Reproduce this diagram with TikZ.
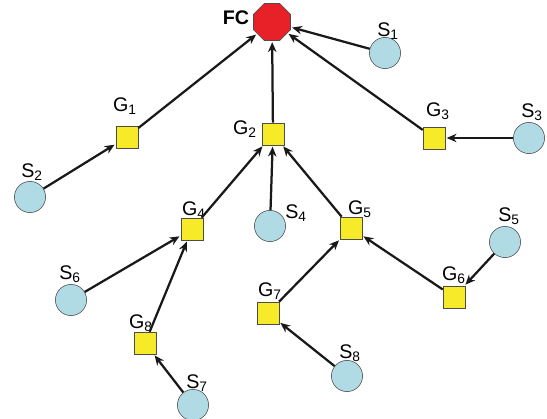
\documentclass[tikz,border=0pt]{standalone}
\usepackage{fontspec}
\setmainfont{Liberation Sans}
\usetikzlibrary{shapes.geometric,arrows.meta}
\definecolor{fcred}{rgb}{0.91,0.13,0.16}
\definecolor{gwyellow}{rgb}{0.97,0.92,0.16}
\definecolor{snblue}{rgb}{0.69,0.86,0.90}

\begin{document}
\begin{tikzpicture}[x=0.025cm,y=-0.025cm,%
    >={Stealth[length=7pt,width=6pt]},
    fc/.style    = {draw=black!70, regular polygon, regular polygon sides=8, minimum size=1cm, inner sep=0pt, fill=fcred},
    gw/.style    = {draw=black!70, rectangle, minimum size=0.55cm, inner sep=0pt, fill=gwyellow},
    sn/.style    = {draw=black!70, circle, minimum size=0.78cm, inner sep=0pt, fill=snblue},
    lbl/.style   = {inner sep=0pt, font=\fontsize{14}{16}\selectfont},
    link/.style  = {->, line width=1.6pt, black!90, shorten >=1pt}]

  \useasboundingbox (0,0) rectangle (547,419);

  % sink
  \draw (272,22) node[fc] (FC) {};
  \draw (236,18) node[lbl] (lFC) {\textbf{FC}};

  % gateways
  \draw (127,137) node[gw] (G1) {};
  \draw (273,134) node[gw] (G2) {};
  \draw (434,138) node[gw] (G3) {};
  \draw (192,229) node[gw] (G4) {};
  \draw (351,228) node[gw] (G5) {};
  \draw (454,297) node[gw] (G6) {};
  \draw (268,313) node[gw] (G7) {};
  \draw (145,343) node[gw] (G8) {};

  % sensors
  \draw (385,53)  node[sn] (S1) {};
  \draw (30,197)  node[sn] (S2) {};
  \draw (529,138) node[sn] (S3) {};
  \draw (270,226) node[sn] (S4) {};
  \draw (505,242) node[sn] (S5) {};
  \draw (71,300)  node[sn] (S6) {};
  \draw (193,405) node[sn] (S7) {};
  \draw (347,376) node[sn] (S8) {};

  % labels
  \draw (125,106) node[lbl] (lG1) {G\textsubscript{1}};
  \draw (245,129) node[lbl] (lG2) {G\textsubscript{2}};
  \draw (438,111) node[lbl] (lG3) {G\textsubscript{3}};
  \draw (194,210) node[lbl] (lG4) {G\textsubscript{4}};
  \draw (360,209) node[lbl] (lG5) {G\textsubscript{5}};
  \draw (454,275) node[lbl] (lG6) {G\textsubscript{6}};
  \draw (270,291) node[lbl] (lG7) {G\textsubscript{7}};
  \draw (141,323) node[lbl] (lG8) {G\textsubscript{8}};
  \draw (388,31)  node[lbl] (lS1) {S\textsubscript{1}};
  \draw (32,172)  node[lbl] (lS2) {S\textsubscript{2}};
  \draw (532,112) node[lbl] (lS3) {S\textsubscript{3}};
  \draw (296,213) node[lbl] (lS4) {S\textsubscript{4}};
  \draw (509,216) node[lbl] (lS5) {S\textsubscript{5}};
  \draw (70,274)  node[lbl] (lS6) {S\textsubscript{6}};
  \draw (197,383) node[lbl] (lS7) {S\textsubscript{7}};
  \draw (350,353) node[lbl] (lS8) {S\textsubscript{8}};

  % links
  \draw [link] (S1) -- (FC);
  \draw [link] (G1) -- (FC);
  \draw [link] (G2) -- (FC);
  \draw [link] (G3) -- (FC);
  \draw [link] (S2) -- (G1);
  \draw [link] (S3) -- (G3);
  \draw [link] (G4) -- (G2);
  \draw [link] (S4) -- (G2);
  \draw [link] (G5) -- (G2);
  \draw [link] (S6) -- (G4);
  \draw [link] (G8) -- (G4);
  \draw [link] (S7) -- (G8);
  \draw [link] (G7) -- (G5);
  \draw [link] (G6) -- (G5);
  \draw [link] (S5) -- (G6);
  \draw [link] (S8) -- (G7);

\end{tikzpicture}
\end{document}
